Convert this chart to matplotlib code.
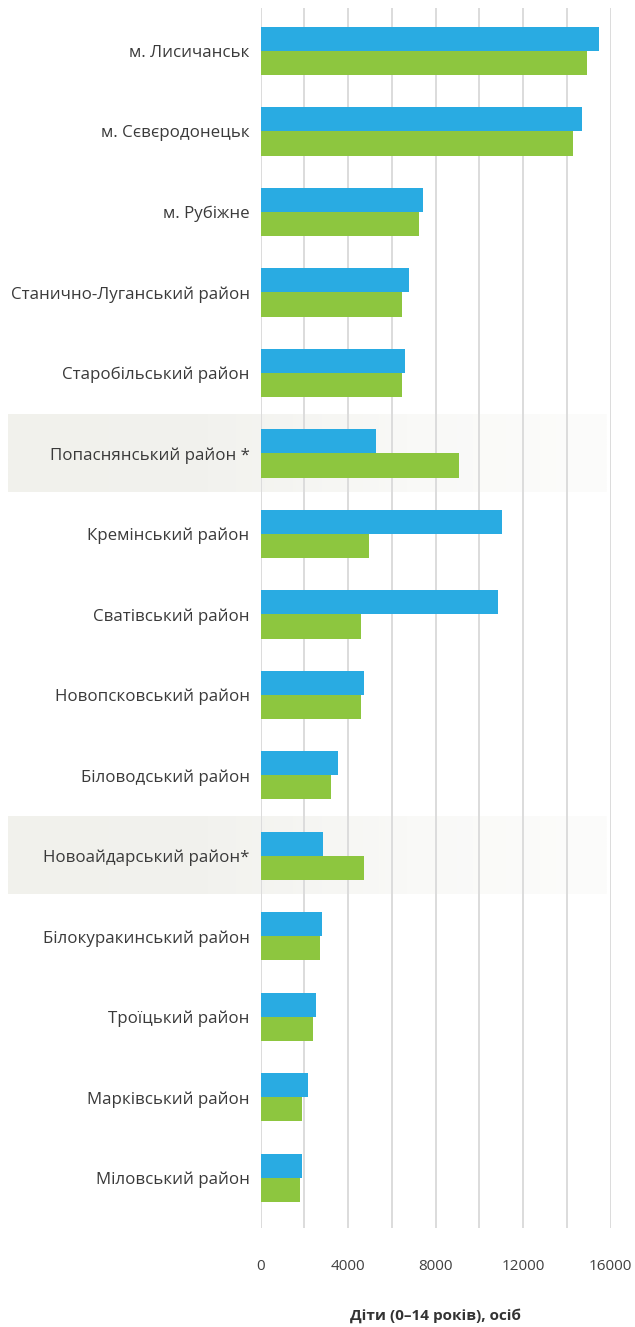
import matplotlib
matplotlib.use("Agg")
import matplotlib.pyplot as plt
import numpy as np
from matplotlib.colors import LinearSegmentedColormap

categories = [
    "м. Лисичанськ", "м. Сєвєродонецьк", "м. Рубіжне",
    "Станично-Луганський район", "Старобільський район",
    "Попаснянський район *", "Кремінський район", "Сватівський район",
    "Новопсковський район", "Біловодський район", "Новоайдарський район*",
    "Білокуракинський район", "Троїцький район", "Марківський район",
    "Міловський район",
]
blue_values = [15470, 14700, 7430, 6790, 6610, 5270, 11050, 10860,
               4740, 3550, 2870, 2780, 2510, 2140, 1910]
green_values = [14920, 14280, 7240, 6470, 6470, 9050, 4950, 4600,
                4600, 3230, 4740, 2730, 2370, 1910, 1780]
highlighted = ["Попаснянський район *", "Новоайдарський район*"]
x_ticks = [0, 4000, 8000, 12000, 16000]
x_label = "Діти (0–14 років), осіб"

plt.rcParams['font.family'] = ['Open Sans', 'DejaVu Sans']

W, H = 635, 1327
fig = plt.figure(figsize=(W / 100, H / 100), dpi=100)
ax = fig.add_axes([260.7 / W, (H - 1228) / H, 350 / W, 1220 / H])

y = np.arange(len(categories))
bh = 0.3
ax.barh(y - bh / 2, blue_values, height=bh, color="#29abe2", zorder=3)
ax.barh(y + bh / 2, green_values, height=bh, color="#8dc63f", zorder=3)

ylim = (14.5 + 10 / 80.5, -0.5 - 2.75 / 80.5)

# highlight bands with gradient
cmap = LinearSegmentedColormap.from_list("band", ["#f1f1ec", "#f2f2ee", "#f9f9f7", "#fcfcfb"])
grad = np.linspace(0, 1, 256).reshape(1, -1)
x_left = (8 - 260.7) / 21.875 * 1000
x_right = (606 - 260.7) / 21.875 * 1000
for name in highlighted:
    i = categories.index(name)
    ax.imshow(grad, aspect="auto", cmap=cmap,
              extent=[x_left, x_right, i + 0.5 - 0.02, i - 0.5 + 0.02],
              zorder=0, clip_on=False, interpolation="bilinear")
ax.set_xlim(0, 16000)
ax.set_ylim(*ylim)

# gridlines every 2000
ax.set_xticks(np.arange(0, 16001, 2000), minor=True)
ax.grid(axis="x", which="both", color="#dcdcdc", linewidth=1.4, zorder=1)
ax.set_axisbelow(True)

ax.set_xticks(x_ticks)
ax.set_xticklabels([str(t) for t in x_ticks], fontsize=11, color="#404040")
ax.set_yticks(y)
ax.set_yticklabels(categories, fontsize=12.2, color="#3a3a3a")
ax.tick_params(axis="both", which="both", length=0)
ax.tick_params(axis="x", pad=22)
ax.tick_params(axis="y", pad=8)
for s in ax.spines.values():
    s.set_visible(False)
ax.patch.set_alpha(0)

fig.text((260.7 + 175) / W, (H - 1316) / H, x_label, ha="center", va="center",
         fontsize=11, fontweight="bold", color="#333333")

fig.savefig("out.png", dpi=100)
